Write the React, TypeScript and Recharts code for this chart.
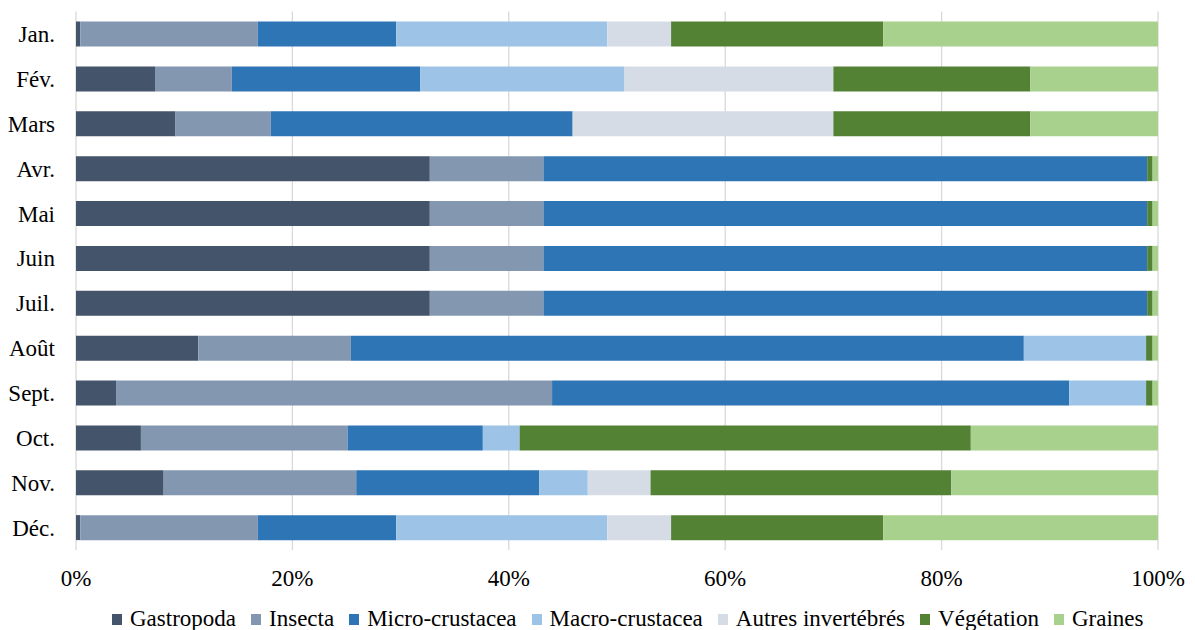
import { Bar, BarChart, CartesianGrid, XAxis, YAxis } from "recharts";

const months = ["Jan.", "Fév.", "Mars", "Avr.", "Mai", "Juin", "Juil.", "Août", "Sept.", "Oct.", "Nov.", "Déc."];

// share of each prey group per month (%)
const gastropoda = [0.4, 7.3, 9.2, 32.7, 32.7, 32.7, 32.7, 11.3, 3.7, 6.0, 8.1, 0.4];
const insecta = [16.4, 7.1, 8.8, 10.5, 10.5, 10.5, 10.5, 14.1, 40.3, 19.1, 17.8, 16.4];
const microCrustacea = [12.8, 17.4, 27.9, 55.8, 55.8, 55.8, 55.8, 62.2, 47.8, 12.5, 16.9, 12.8];
const macroCrustacea = [19.5, 18.9, 0, 0, 0, 0, 0, 11.3, 7.1, 3.4, 4.5, 19.5];
const autresInvertebres = [5.9, 19.3, 24.1, 0, 0, 0, 0, 0, 0, 0, 5.8, 5.9];
const vegetation = [19.6, 18.2, 18.2, 0.5, 0.5, 0.5, 0.5, 0.6, 0.6, 41.7, 27.8, 19.6];
const graines = [25.4, 11.8, 11.8, 0.5, 0.5, 0.5, 0.5, 0.5, 0.5, 17.3, 19.1, 25.4];

const xTicks = [0, 0.2, 0.4, 0.6, 0.8, 1];

const series = [
  { key: "gastropoda", name: "Gastropoda", color: "#44546A", values: gastropoda },
  { key: "insecta", name: "Insecta", color: "#8497B0", values: insecta },
  { key: "micro", name: "Micro-crustacea", color: "#2E75B6", values: microCrustacea },
  { key: "macro", name: "Macro-crustacea", color: "#9DC3E6", values: macroCrustacea },
  { key: "autres", name: "Autres invertébrés", color: "#D6DCE5", values: autresInvertebres },
  { key: "vegetation", name: "Végétation", color: "#548235", values: vegetation },
  { key: "graines", name: "Graines", color: "#A9D18E", values: graines },
];

const data = months.map((month, i) => {
  const row: Record<string, string | number> = { month };
  for (const s of series) row[s.key] = s.values[i];
  return row;
});

const font = "'Liberation Serif', 'Times New Roman', serif";
const tickStyle = { fill: "#000", fontSize: 23, fontFamily: font };

function ChartLegend() {
  return (
    <div
      style={{
        position: "absolute",
        top: 607,
        left: 112,
        display: "flex",
        alignItems: "center",
        fontFamily: font,
        fontSize: 23,
        color: "#000",
        whiteSpace: "nowrap",
        lineHeight: "24px",
      }}
    >
      {series.map((s) => (
        <div key={s.key} style={{ display: "flex", alignItems: "center", marginRight: 15 }}>
          <span style={{ width: 10, height: 11, background: s.color, marginRight: 8, marginTop: 1 }} />
          <span>{s.name}</span>
        </div>
      ))}
    </div>
  );
}

export default function App() {
  return (
    <div style={{ position: "absolute", left: 0, top: 0, width: 1195, height: 630, background: "#fff" }}>
      <BarChart
        width={1195}
        height={630}
        data={data}
        layout="vertical"
        stackOffset="expand"
        margin={{ top: 11.5, right: 37, left: 0, bottom: 40 }}
      >
        <CartesianGrid horizontal={false} stroke="#D9D9D9" strokeWidth={1.3} />
        <XAxis
          type="number"
          domain={[0, 1]}
          ticks={xTicks}
          tickFormatter={(v: number) => `${Math.round(v * 100)}%`}
          tick={tickStyle}
          axisLine={false}
          tickLine={false}
          tickMargin={14}
          height={40}
        />
        <YAxis
          type="category"
          dataKey="month"
          tick={tickStyle}
          axisLine={false}
          tickLine={false}
          tickMargin={15}
          width={76}
          interval={0}
        />
        {series.map((s) => (
          <Bar
            key={s.key}
            dataKey={s.key}
            name={s.name}
            stackId="a"
            fill={s.color}
            barSize={25}
            isAnimationActive={false}
          />
        ))}
      </BarChart>
      <ChartLegend />
    </div>
  );
}
